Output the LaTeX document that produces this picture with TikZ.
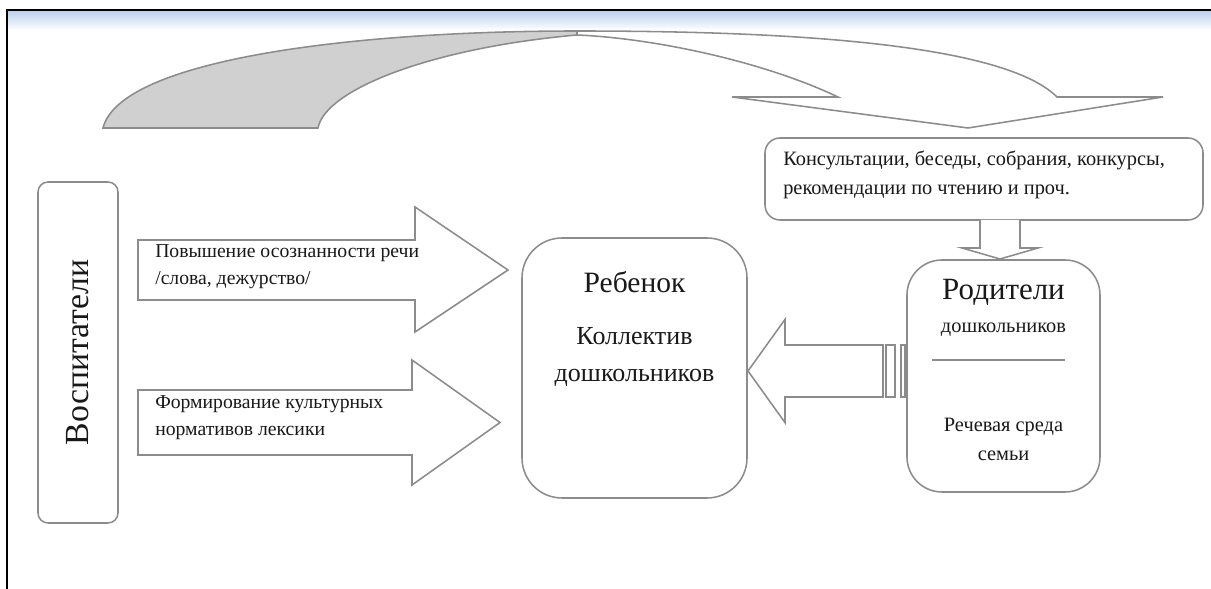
\documentclass[tikz,border=0pt]{standalone}
\usepackage{fontspec}
\setmainfont{Liberation Serif}
\usetikzlibrary{positioning}

\definecolor{edgegray}{RGB}{140,140,140}
\definecolor{tailgray}{RGB}{208,208,208}
\definecolor{bandblue}{RGB}{188,208,236}
\definecolor{inkgray}{RGB}{25,25,25}

\tikzset{
  roundbox/.style={draw=edgegray,line width=1.1pt,rounded corners=#1,fill=white,text=inkgray},
  roundbox/.default=0.25cm,
  blockarrow/.style={draw=edgegray,line width=1.1pt,fill=white,line join=miter},
  arrowtext/.style={text=inkgray,inner sep=0pt,align=left,anchor=west,font=\fontsize{14}{19}\selectfont},
  smalltext/.style={text=inkgray,inner sep=0pt,align=center,font=\fontsize{14.5}{20.5}\selectfont}
}

\begin{document}
\begin{tikzpicture}
\useasboundingbox (0,0) rectangle (30.275,14.725);

% window frame
\shade[top color=bandblue,bottom color=white] (0.2,13.975) rectangle (30.275,14.45);
\draw[black,line width=1.4pt] (0.175,0) -- (0.175,14.475) -- (30.275,14.475);

% curved arrow over the top
\draw[draw=edgegray,line width=1.1pt,fill=tailgray] (2.575,11.525) -- (7.95,11.525)
  .. controls (8.125,12.475) and (10.75,13.525) .. (14.425,13.85) -- (14.425,13.95)
  .. controls (8.75,13.95) and (3.0,13.225) .. (2.575,11.525) -- cycle;
\draw[blockarrow] (14.425,13.95) .. controls (19,13.95) and (25,13.725) .. (26.425,12.3)
  -- (29.075,12.3) -- (24.2,11.525) -- (18.3,12.3) -- (20.95,12.3)
  .. controls (19,13.225) and (16.25,13.775) .. (14.425,13.85) -- cycle;

% boxes
\node[roundbox,rotate=90,minimum width=8.525cm,minimum height=2cm,
  font=\fontsize{24}{28}\selectfont] (vosp) at (1.95,5.9125) {Воспитатели};
\node[roundbox=1cm,minimum width=5.625cm,minimum height=6.5cm] (child) at (15.8625,5.525) {};
\node[roundbox=0.875cm,minimum width=4.825cm,minimum height=5.8cm] (parents) at (25.0875,5.325) {};
\node[roundbox=0.375cm,minimum width=10.95cm,minimum height=2.05cm] (consult) at (24.6,10.25) {};

% texts in the boxes
\node[text=inkgray,inner sep=0pt,font=\fontsize{21}{25}\selectfont] (childtitle)
  at ([yshift=-1.125cm]child.north) {Ребенок};
\node[text=inkgray,inner sep=0pt,align=center,font=\fontsize{18.5}{26}\selectfont] (childsub)
  at ([yshift=-3.0cm]child.north) {Коллектив\\дошкольников};
\node[text=inkgray,inner sep=0pt,font=\fontsize{22}{26}\selectfont] (parentstitle)
  at ([yshift=-0.825cm]parents.north) {Родители};
\node[smalltext] (parentssub) at ([yshift=-1.75cm]parents.north) {дошкольников};
\draw[edgegray,line width=1.1pt] (23.3,5.725) -- (26.625,5.725);
\node[smalltext] (speech) at ([yshift=-4.5cm]parents.north) {Речевая среда\\семьи};
\node[smalltext,align=left,anchor=west,font=\fontsize{14.5}{21}\selectfont] (consulttext)
  at (19.575,10.35) {Консультации, беседы, собрания, конкурсы,\\рекомендации по чтению и проч.};

% block arrows
\draw[blockarrow] (3.45,8.725) -- (10.375,8.725) -- (10.375,9.55) -- (12.7,7.975)
  -- (10.375,6.425) -- (10.375,7.225) -- (3.45,7.225) -- cycle;
\node[arrowtext] (awareness) at (3.875,8.06) {Повышение осознанности речи\\/слова, дежурство/};
\draw[blockarrow] (3.45,4.975) -- (10.3,4.975) -- (10.3,5.725) -- (12.5,4.1625)
  -- (10.3,2.6) -- (10.3,3.35) -- (3.45,3.35) -- cycle;
\node[arrowtext] (norms) at (3.875,4.2875) {Формирование культурных\\нормативов лексики};

\draw[blockarrow] (24.5,9.225) -- (24.5,8.525) -- (24.05,8.525) -- (25,8.25)
  -- (25.95,8.525) -- (25.5,8.525) -- (25.5,9.225);

\draw[blockarrow] (18.7,5.45) -- (19.625,6.74) -- (19.625,6.1) -- (22.075,6.1)
  -- (22.075,4.8) -- (19.625,4.8) -- (19.625,4.16) -- cycle;
\draw[blockarrow] (22.15,4.8) rectangle (22.375,6.1);
\draw[blockarrow] (22.525,4.8) rectangle (22.625,6.1);

\end{tikzpicture}
\end{document}
